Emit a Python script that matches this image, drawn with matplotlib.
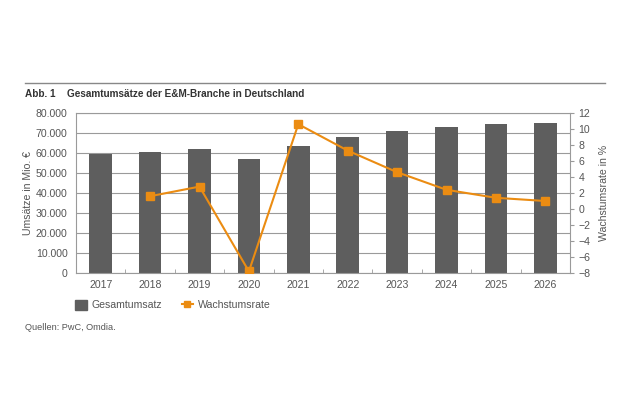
import numpy as np
import matplotlib.pyplot as plt
from matplotlib.ticker import FuncFormatter, FixedLocator
from matplotlib.lines import Line2D
from matplotlib.patches import Patch

years = ['2017', '2018', '2019', '2020', '2021', '2022', '2023', '2024', '2025', '2026']
umsatz = [59400, 60400, 62000, 57200, 63400, 68200, 71200, 72900, 74400, 75000]
wachstum_years = ['2018', '2019', '2020', '2021', '2022', '2023', '2024', '2025', '2026']
wachstum = [1.6, 2.8, -7.8, 10.6, 7.3, 4.6, 2.4, 1.4, 1.0]

grau = '#5e5e5e'
orange = '#eb8c12'
text_col = '#555555'
rahmen = '#9a9a9a'
fs = 7.6

plt.rcParams['font.family'] = ['Liberation Sans', 'DejaVu Sans']

fig = plt.figure(figsize=(6.3, 4.04), dpi=100)
W, H = 630, 404
ax = fig.add_axes([76 / W, 1 - 273 / H, 494 / W, 160 / H])

x = np.arange(len(years))
ax.bar(x, umsatz, width=0.46, color=grau, zorder=2)
ax.set_xlim(-0.5, len(years) - 0.5)
ax.set_ylim(0, 80000)
ax.set_yticks(np.arange(0, 80001, 10000))
ax.yaxis.set_major_formatter(FuncFormatter(lambda v, p: f'{int(v):,}'.replace(',', '.')))
ax.grid(axis='y', color=rahmen, linewidth=0.8, zorder=0)
ax.set_xticks(x)
ax.set_xticklabels(years)
ax.xaxis.set_minor_locator(FixedLocator(np.arange(0.5, len(years) - 1, 1)))
ax.tick_params(axis='x', which='major', length=0, pad=5)
ax.tick_params(axis='x', which='minor', length=3, direction='in', color=rahmen)
ax.tick_params(axis='y', length=0, pad=6)
ax.tick_params(colors=text_col, labelsize=fs)
for s in ax.spines.values():
    s.set_color(rahmen)
    s.set_linewidth(0.8)
ax.set_ylabel('Umsätze in Mio. €', color=text_col, fontsize=fs, labelpad=2)

ax2 = ax.twinx()
xi = [years.index(y) for y in wachstum_years]
ax2.plot(xi, wachstum, color=orange, linewidth=1.5, marker='s', markersize=6, zorder=3)
ax2.set_ylim(-8, 12)
ax2.set_yticks(np.arange(-8, 13, 2))
ax2.yaxis.set_major_formatter(FuncFormatter(lambda v, p: f'{int(v)}'.replace('-', '\u2212')))
ax2.tick_params(axis='y', length=3, color=rahmen, colors=text_col, labelsize=fs, pad=3)
for s in ax2.spines.values():
    s.set_visible(False)
ax2.set_ylabel('Wachstumsrate in %', color=text_col, fontsize=fs, labelpad=6)

# Linie oben und Titel
fig.add_artist(Line2D([25 / W, 605 / W], [1 - 83 / H, 1 - 83 / H], color='#888888', linewidth=1))
fig.text(25 / W, 1 - 94 / H, 'Abb. 1', fontsize=7.2, fontweight='bold', color='#333333', va='center')
fig.text(67 / W, 1 - 94 / H, 'Gesamtumsätze der E&M-Branche in Deutschland', fontsize=7.2,
         fontweight='bold', color='#333333', va='center')

handles = [Patch(color=grau),
           Line2D([0], [0], color=orange, linewidth=1.5, marker='s', markersize=5)]
fig.legend(handles, ['Gesamtumsatz', 'Wachstumsrate'], loc='center left',
           bbox_to_anchor=(75 / W, 1 - 305 / H), ncol=2, frameon=False, fontsize=fs,
           labelcolor=text_col, handlelength=1.1, handleheight=1.1, columnspacing=1.8,
           handletextpad=0.5, borderpad=0, borderaxespad=0)

fig.text(25 / W, 1 - 327 / H, 'Quellen: PwC, Omdia.', fontsize=6.6, color=text_col, va='center')

fig.savefig('out.png', dpi=100)
